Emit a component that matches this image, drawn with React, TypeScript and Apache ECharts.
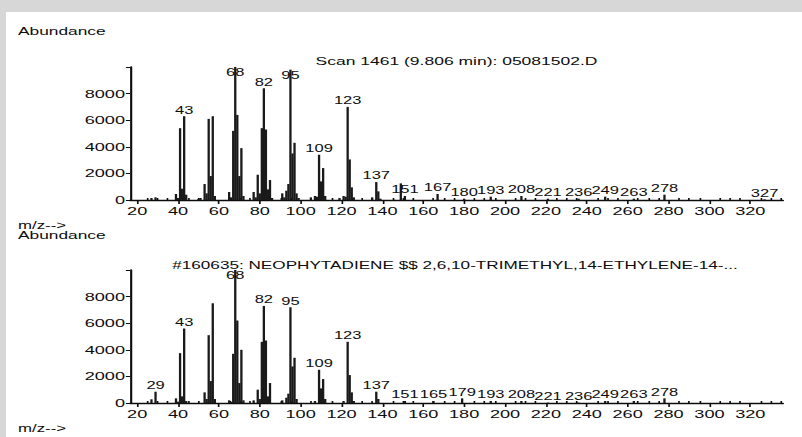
import React, { useEffect, useRef } from "react";
import * as echarts from "echarts";

// ---- data ----
const topTitle = "Scan 1461 (9.806 min): 05081502.D";
const bottomTitle = "#160635: NEOPHYTADIENE $$ 2,6,10-TRIMETHYL,14-ETHYLENE-14-...";

const topMz = [27, 29, 39, 40, 41, 42, 43, 44, 50, 51, 53, 54, 55, 56, 57, 58, 65, 66, 67, 68, 69, 70, 71, 72, 77, 78, 79, 80, 81, 82, 83, 84, 85, 86, 91, 92, 93, 94, 95, 96, 97, 98, 99, 105, 107, 108, 109, 110, 111, 112, 119, 121, 122, 123, 124, 125, 126, 135, 137, 138, 139, 149, 151, 167, 180, 193, 208, 221, 236, 249, 263, 278, 327];
const topAbund = [150, 200, 450, 150, 5400, 850, 6300, 400, 100, 150, 1200, 500, 6100, 1800, 6300, 300, 600, 200, 5200, 10000, 6400, 1800, 3900, 300, 600, 200, 1900, 500, 5400, 8400, 5300, 800, 1500, 150, 500, 200, 700, 1200, 9800, 3500, 4300, 500, 150, 200, 300, 250, 3400, 1400, 2400, 300, 150, 300, 250, 7000, 3050, 950, 200, 200, 1350, 650, 100, 1250, 300, 450, 100, 250, 300, 100, 100, 250, 100, 400, 50];
const topLabeled = [43, 68, 82, 95, 109, 123, 137, 151, 167, 180, 193, 208, 221, 236, 249, 263, 278, 327];

const botMz = [27, 29, 39, 40, 41, 42, 43, 44, 53, 54, 55, 56, 57, 58, 65, 66, 67, 68, 69, 70, 71, 72, 77, 79, 80, 81, 82, 83, 84, 85, 91, 93, 94, 95, 96, 97, 98, 107, 109, 110, 111, 112, 121, 123, 124, 125, 126, 137, 138, 151, 165, 179, 193, 208, 221, 236, 249, 263, 278];
const botAbund = [280, 850, 350, 100, 3750, 500, 5600, 150, 800, 300, 5100, 1650, 7500, 300, 200, 100, 3700, 10000, 6200, 1500, 4000, 200, 200, 1000, 300, 4600, 7300, 4700, 500, 1500, 200, 400, 700, 7200, 2750, 3400, 300, 150, 2500, 1100, 1800, 300, 150, 4600, 2100, 800, 150, 850, 300, 150, 150, 350, 150, 150, 30, 30, 150, 150, 350];
const botLabeled = [29, 43, 68, 82, 95, 109, 123, 137, 151, 165, 179, 193, 208, 221, 236, 249, 263, 278];

const xTickValues = [20, 40, 60, 80, 100, 120, 140, 160, 180, 200, 220, 240, 260, 280, 300, 320];
const xMinorValues = [25, 30, 35, 45, 50, 55, 65, 70, 75, 85, 90, 95, 105, 110, 115, 125, 130, 135, 145, 150, 155, 165, 170, 175, 185, 190, 195, 205, 210, 215, 225, 230, 235, 245, 250, 255, 265, 270, 275, 285, 290, 295, 305, 310, 315, 325, 330, 335];
const xMin = 16.5;
const xMax = 336;
const yMax = 10000;
const yInterval = 2000;

// ---- layout ----
const S = 1.65; // horizontal stretch of the reference
const W = 802 / S;
const H = 437;
const FONT = "'Liberation Sans', Arial, sans-serif";
const INK = "#0d0d0d";

function bars(mz: number[], ab: number[], labeled: number[]) {
  return mz.map((m, i) => {
    const show = labeled.indexOf(m) >= 0;
    const high = ab[i] >= 9500;
    return {
      value: [m, ab[i]],
      label: show
        ? {
            show: true,
            formatter: String(m),
            position: high ? "insideTop" : "top",
            distance: 1,
          }
        : { show: false },
    };
  });
}

function App() {
  const ref = useRef<HTMLDivElement>(null);
  useEffect(() => {
    if (!ref.current) return;
    const chart = echarts.init(ref.current, null, { renderer: "svg" });
    const gridL = 130 / S;
    const gridW = 653 / S;
    const xAxisBase = (gridIndex: number) => ({
      type: "value",
      gridIndex,
      min: xMin,
      max: xMax,
      axisLine: { show: true, onZero: false, lineStyle: { color: INK, width: 1.3 } },
      axisTick: { show: true, customValues: xTickValues, length: 4, lineStyle: { color: INK, width: 1 } },
      axisLabel: { show: true, customValues: xTickValues, margin: 5, fontSize: 11, fontFamily: FONT, color: INK },
      splitLine: { show: false },
    });
    const xAxisMinor = (gridIndex: number) => ({
      type: "value",
      gridIndex,
      min: xMin,
      max: xMax,
      axisLine: { show: false },
      axisTick: { show: true, customValues: xMinorValues, length: 2, lineStyle: { color: INK, width: 1 } },
      axisLabel: { show: false },
      splitLine: { show: false },
    });
    const yAxisBase = (gridIndex: number) => ({
      type: "value",
      gridIndex,
      min: 0,
      max: yMax,
      interval: yInterval,
      axisLine: { show: true, lineStyle: { color: INK, width: 1.3 } },
      axisTick: { show: true, length: 2.5, lineStyle: { color: INK } },
      axisLabel: {
        margin: 3,
        fontSize: 11,
        fontFamily: FONT,
        color: INK,
        formatter: (v: number) => (v >= yMax ? "" : String(v)),
      },
      splitLine: { show: false },
    });
    const barSeries = (idx: number, data: any[]) => ({
      type: "bar",
      xAxisIndex: idx,
      yAxisIndex: idx,
      barWidth: 1.4,
      data,
      itemStyle: { color: "#1a1a1a" },
      label: { fontSize: 10, fontFamily: FONT, color: INK },
      emphasis: { disabled: true },
    });
    const txt = (text: string, x: number, y: number, size: number, align = "left") => ({
      type: "text",
      x,
      y,
      style: { text, fontSize: size, fontFamily: FONT, fill: INK, textAlign: align, textVerticalAlign: "middle" },
    });
    chart.setOption({
      animation: false,
      backgroundColor: "#d7d7d7",
      grid: [
        { left: gridL, top: 67, width: gridW, height: 133 },
        { left: gridL, top: 270, width: gridW, height: 133 },
      ],
      xAxis: [xAxisBase(0), xAxisBase(1), xAxisMinor(0), xAxisMinor(1)],
      yAxis: [yAxisBase(0), yAxisBase(1)],
      series: [
        barSeries(0, bars(topMz, topAbund, topLabeled)),
        barSeries(1, bars(botMz, botAbund, botLabeled)),
      ],
      graphic: [
        { type: "rect", z: -10, shape: { x: 6 / S, y: 12, width: W, height: H }, style: { fill: "#ffffff" } },
        txt("Abundance", 18 / S, 31.5, 10.5),
        txt(topTitle, 456.5 / S, 61.5, 10.6, "center"),
        txt("m/z-->", 18 / S, 225, 10.2),
        txt("Abundance", 18 / S, 235.5, 10.5),
        txt(bottomTitle, 455 / S, 265, 10.4, "center"),
        txt("m/z-->", 18 / S, 428.5, 10.2),
      ],
    });
    return () => chart.dispose();
  }, []);
  return (
    <div style={{ position: "fixed", left: 0, top: 0, width: 802, height: 437, overflow: "hidden", background: "#d7d7d7" }}>
      <div
        ref={ref}
        style={{ width: W, height: H, transform: `scaleX(${S})`, transformOrigin: "0 0" }}
      />
    </div>
  );
}

export default App;
